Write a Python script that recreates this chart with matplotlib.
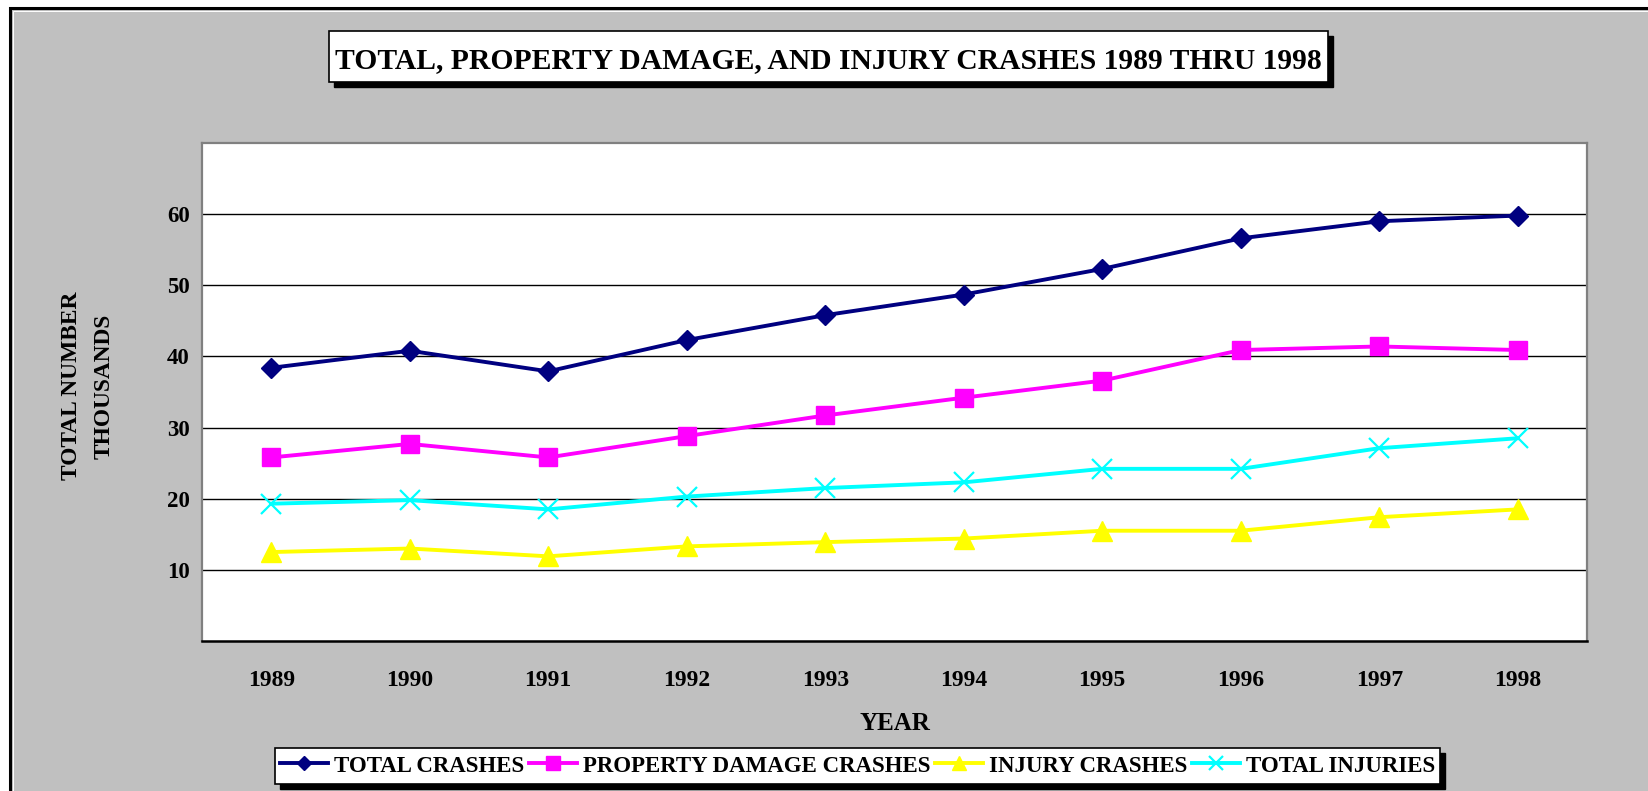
import numpy as np
import matplotlib
matplotlib.use("Agg")
import matplotlib.pyplot as plt
from matplotlib.patches import Rectangle

# ----------------------------------------------------------------------------
# Data (thousands)
# ----------------------------------------------------------------------------
years = ["1989", "1990", "1991", "1992", "1993", "1994", "1995", "1996", "1997", "1998"]
total_crashes = [38.4, 40.8, 37.9, 42.3, 45.8, 48.7, 52.3, 56.6, 59.0, 59.8]
property_damage = [25.8, 27.7, 25.8, 28.8, 31.7, 34.2, 36.6, 40.9, 41.4, 40.9]
injury_crashes = [12.5, 13.0, 11.9, 13.3, 13.9, 14.4, 15.5, 15.5, 17.4, 18.5]
total_injuries = [19.3, 19.8, 18.5, 20.3, 21.5, 22.3, 24.2, 24.2, 27.1, 28.5]

series_labels = ["TOTAL CRASHES", "PROPERTY DAMAGE CRASHES", "INJURY CRASHES", "TOTAL INJURIES"]
y_ticks = [10, 20, 30, 40, 50, 60]

title = "TOTAL, PROPERTY DAMAGE, AND INJURY CRASHES 1989 THRU 1998"

W, H = 1648, 791
BG = "#C0C0C0"
FONT = "Liberation Serif"


def fx(x):
    return x / W


def fy(y):
    return 1 - y / H


fig = plt.figure(figsize=(W / 100, H / 100), dpi=100, facecolor="white")

# outer grey panel with black frame (right/bottom run off the page)
fig.patches.append(Rectangle((fx(10), fy(H + 20)), fx(W + 20), (H + 20 - 8) / H,
                             transform=fig.transFigure, facecolor=BG,
                             edgecolor="black", linewidth=2.2, zorder=-10))
fig.patches.append(Rectangle((fx(13), fy(H + 20)), fx(W + 20), (H + 20 - 11) / H,
                             transform=fig.transFigure, facecolor="none",
                             edgecolor="white", linewidth=0.7, zorder=-9))

# plot area
ax = fig.add_axes([fx(202), fy(641), fx(1587 - 202), (641 - 143) / H])
ax.set_facecolor("white")
x = np.arange(len(years))

ax.plot(x, total_crashes, color="#000080", lw=2.8, marker="D", ms=10,
        mfc="#000080", mec="#000080", label=series_labels[0], zorder=5)
ax.plot(x, property_damage, color="#FF00FF", lw=2.8, marker="s", ms=12.5,
        mfc="#FF00FF", mec="#FF00FF", label=series_labels[1], zorder=5)
ax.plot(x, injury_crashes, color="#FFFF00", lw=2.8, marker="^", ms=14,
        mfc="#FFFF00", mec="#FFFF00", label=series_labels[2], zorder=5)
ax.plot(x, total_injuries, color="#00FFFF", lw=2.8, marker="x", ms=14,
        mew=1.6, mec="#00FFFF", label=series_labels[3], zorder=5)

ax.set_xlim(-0.5, len(years) - 0.5)
ax.set_ylim(0, 70)
ax.set_xticks(x)
ax.set_xticklabels(years)
ax.set_yticks(y_ticks)
ax.tick_params(axis="x", length=0, pad=21)
ax.tick_params(axis="y", length=0, pad=9)
for lab in ax.get_xticklabels():
    lab.set_fontfamily(FONT)
    lab.set_fontweight("bold")
    lab.set_fontsize(17)
for lab in ax.get_yticklabels():
    lab.set_fontfamily(FONT)
    lab.set_fontweight("bold")
    lab.set_fontsize(16.5)

ax.grid(axis="y", color="black", lw=1.0)
ax.set_axisbelow(True)
for side in ["top", "left", "right"]:
    ax.spines[side].set_color("#808080")
    ax.spines[side].set_linewidth(1.6)
ax.spines["bottom"].set_color("black")
ax.spines["bottom"].set_linewidth(1.8)

# axis titles
fig.text(fx(895), fy(723), "YEAR", ha="center", va="center",
         fontfamily=FONT, fontweight="bold", fontsize=18)
fig.text(fx(88), fy(386), "TOTAL NUMBER\nTHOUSANDS", ha="center", va="center",
         rotation=90, fontfamily=FONT, fontweight="bold", fontsize=16.8,
         linespacing=1.7, multialignment="center")

# title box with shadow
tx0, ty0, tx1, ty1 = 329, 31, 1328, 82
fig.patches.append(Rectangle((fx(tx0 + 5), fy(ty1 + 5)), fx(tx1 - tx0), (ty1 - ty0) / H,
                             transform=fig.transFigure, facecolor="black",
                             edgecolor="black", zorder=1))
fig.patches.append(Rectangle((fx(tx0), fy(ty1)), fx(tx1 - tx0), (ty1 - ty0) / H,
                             transform=fig.transFigure, facecolor="white",
                             edgecolor="black", linewidth=1.2, zorder=2))
fig.text(fx(335), fy(68), title, ha="left", va="baseline",
         fontfamily=FONT, fontweight="bold", fontsize=21.3, zorder=3)

# legend box with shadow
lx0, ly0, lx1, ly1 = 275, 748, 1440, 784
fig.patches.append(Rectangle((fx(lx0 + 5), fy(ly1 + 5)), fx(lx1 - lx0), (ly1 - ly0) / H,
                             transform=fig.transFigure, facecolor="black",
                             edgecolor="black", zorder=1))
fig.patches.append(Rectangle((fx(lx0), fy(ly1)), fx(lx1 - lx0), (ly1 - ly0) / H,
                             transform=fig.transFigure, facecolor="white",
                             edgecolor="black", linewidth=1.2, zorder=2))
leg = fig.legend(loc="center", bbox_to_anchor=(fx((lx0 + lx1) / 2), fy((ly0 + ly1) / 2)),
                 ncol=4, frameon=False, handlelength=2.1, handletextpad=0.25,
                 columnspacing=0.2, markerscale=0.75, borderpad=0.2,
                 prop={"family": FONT, "weight": "bold", "size": 16.5})
leg.set_zorder(4)

fig.savefig("out.png", dpi=100, facecolor=fig.get_facecolor())
